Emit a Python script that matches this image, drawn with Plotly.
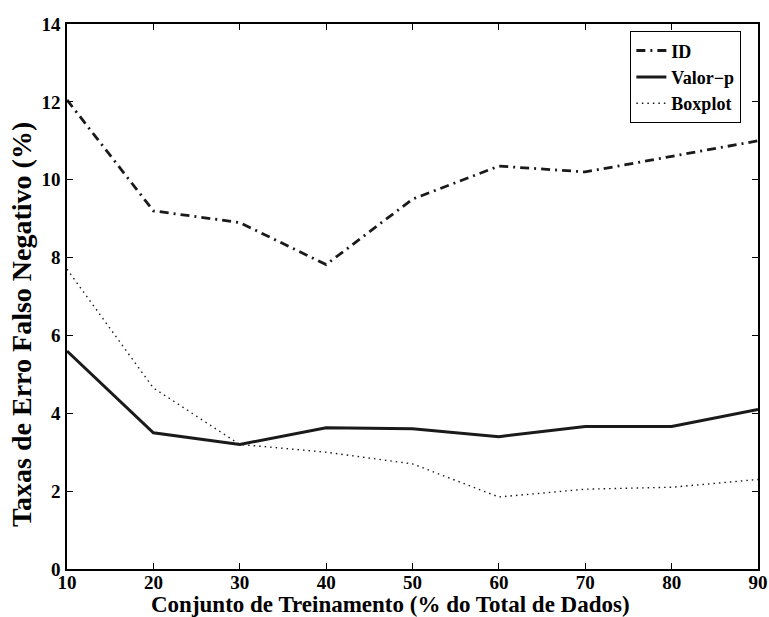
import plotly.graph_objects as go

# Training set size (% of total data)
treino = [10, 20, 30, 40, 50, 60, 70, 80, 90]

# False negative error rates (%)
taxa_id = [12.05, 9.2, 8.9, 7.82, 9.5, 10.35, 10.2, 10.6, 11.0]
taxa_valor_p = [5.6, 3.5, 3.2, 3.63, 3.6, 3.4, 3.66, 3.66, 4.1]
taxa_boxplot = [7.7, 4.65, 3.2, 3.0, 2.7, 1.85, 2.05, 2.1, 2.3]

x_ticks = [10, 20, 30, 40, 50, 60, 70, 80, 90]
y_ticks = [0, 2, 4, 6, 8, 10, 12, 14]

FONT = "Liberation Serif"
INK = "#1a1a1a"

fig = go.Figure()
fig.add_trace(go.Scatter(
    x=treino, y=taxa_id, mode="lines", name="<b>ID</b>",
    line=dict(color=INK, width=2.8, dash="9px,5px,2px,5px"),
))
fig.add_trace(go.Scatter(
    x=treino, y=taxa_valor_p, mode="lines", name="<b>Valor\u2212p</b>",
    line=dict(color=INK, width=3),
))
fig.add_trace(go.Scatter(
    x=treino, y=taxa_boxplot, mode="lines", name="<b>Boxplot</b>",
    line=dict(color=INK, width=1.4, dash="1.5px,4px"),
))

axis_common = dict(
    showgrid=False, zeroline=False, showline=True, linecolor="black",
    linewidth=1.5, mirror="ticks", ticks="inside", ticklen=6,
    tickwidth=1, tickcolor="black", automargin=False,
    tickfont=dict(family=FONT, size=19, color="black"),
)

fig.update_layout(
    width=769, height=617,
    margin=dict(l=67, r=11, t=24, b=48),
    paper_bgcolor="white", plot_bgcolor="white",
    font=dict(family=FONT, color="black"),
    showlegend=True,
    legend=dict(
        x=0.815, y=0.987, xanchor="left", yanchor="top",
        bordercolor="black", borderwidth=1.2, bgcolor="white",
        font=dict(family=FONT, size=18, color="black"),
        tracegroupgap=0, itemwidth=30,
    ),
    xaxis=dict(
        range=[10, 90], tickvals=x_ticks,
        ticktext=[f"<b>{v}</b>" for v in x_ticks],
        ticklabelstandoff=-5,
        **axis_common,
    ),
    yaxis=dict(
        range=[0, 14], tickvals=y_ticks,
        ticktext=[f"<b>{v}</b>" for v in y_ticks],
        ticklabelstandoff=1,
        **axis_common,
    ),
    annotations=[
        dict(text="<b>Conjunto de Treinamento (% do Total de Dados)</b>",
             xref="paper", yref="paper", x=(390 - 67) / 691, y=-(604 - 569) / 545,
             xanchor="center", yanchor="middle", showarrow=False,
             font=dict(family=FONT, size=23, color="black")),
        dict(text="<b>Taxas de Erro Falso Negativo (%)</b>",
             xref="paper", yref="paper", x=-(67 - 21) / 691, y=(569 - 325) / 545,
             xanchor="center", yanchor="middle", showarrow=False, textangle=-90,
             font=dict(family=FONT, size=28, color="black")),
    ],
)

fig.write_html("out.html")
